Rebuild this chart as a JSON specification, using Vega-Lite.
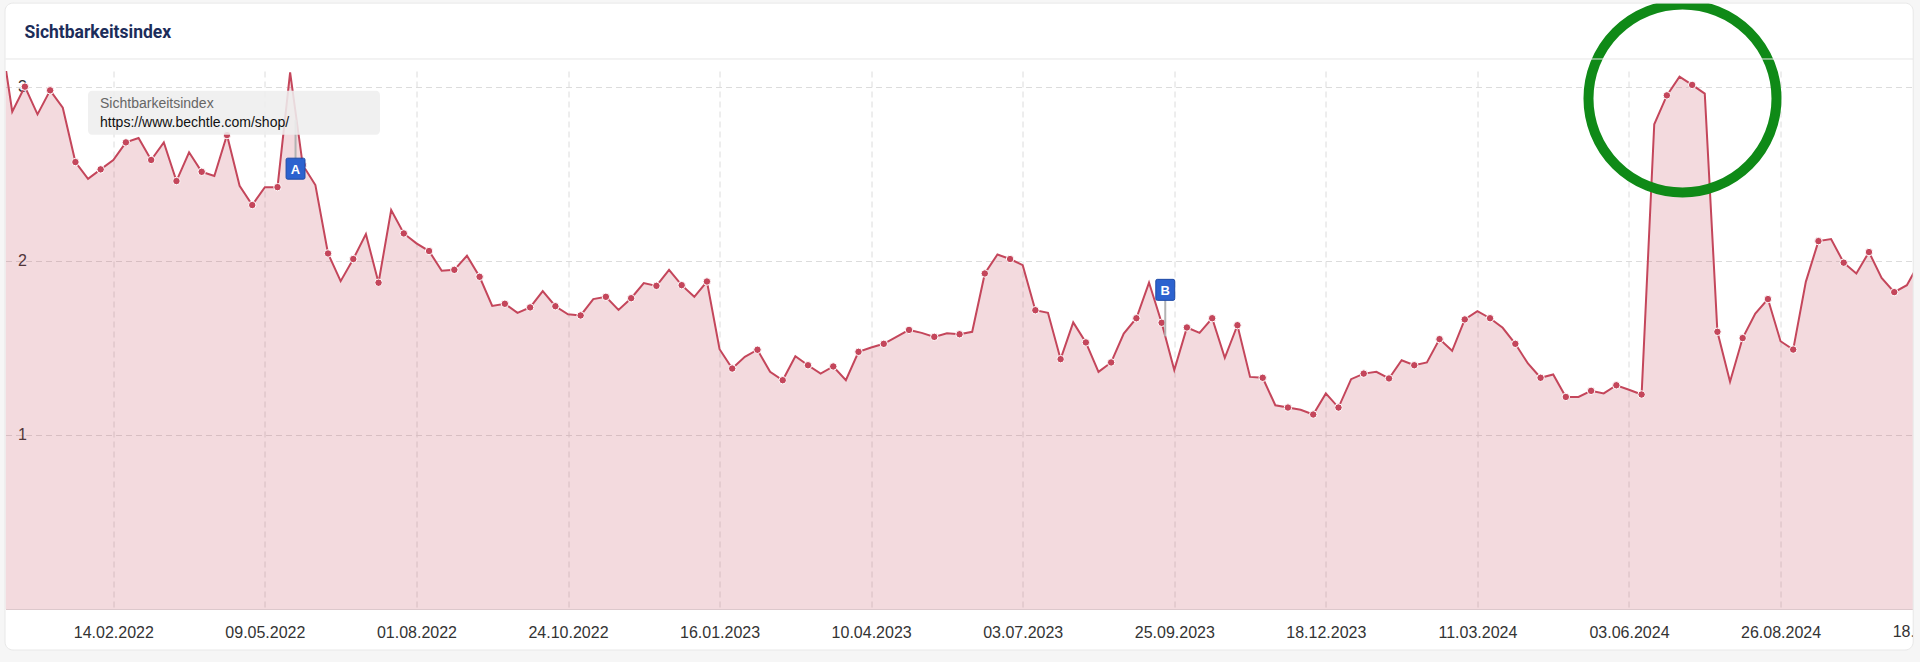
{
  "$schema": "https://vega.github.io/schema/vega-lite/v6.json",
  "width": 1907.5,
  "height": 538,
  "autosize": {"type": "none"},
  "padding": {"left": 5.5, "top": 71, "right": 7, "bottom": 53},
  "background": "white",
  "config": {"view": {"stroke": null}, "numberFormat": "d"},
  "datasets": {
    "series": [
      {"date": "2021-12-13", "value": 3.34},
      {"date": "2021-12-20", "value": 2.856},
      {"date": "2021-12-27", "value": 3.0},
      {"date": "2022-01-03", "value": 2.841},
      {"date": "2022-01-10", "value": 2.979},
      {"date": "2022-01-17", "value": 2.879},
      {"date": "2022-01-24", "value": 2.567},
      {"date": "2022-01-31", "value": 2.471},
      {"date": "2022-02-07", "value": 2.525},
      {"date": "2022-02-14", "value": 2.579},
      {"date": "2022-02-21", "value": 2.68},
      {"date": "2022-02-28", "value": 2.705},
      {"date": "2022-03-07", "value": 2.579},
      {"date": "2022-03-14", "value": 2.68},
      {"date": "2022-03-21", "value": 2.458},
      {"date": "2022-03-28", "value": 2.623},
      {"date": "2022-04-04", "value": 2.511},
      {"date": "2022-04-11", "value": 2.487},
      {"date": "2022-04-18", "value": 2.722},
      {"date": "2022-04-25", "value": 2.431},
      {"date": "2022-05-02", "value": 2.32},
      {"date": "2022-05-09", "value": 2.423},
      {"date": "2022-05-16", "value": 2.423},
      {"date": "2022-05-23", "value": 3.082},
      {"date": "2022-05-30", "value": 2.55},
      {"date": "2022-06-06", "value": 2.435},
      {"date": "2022-06-13", "value": 2.042},
      {"date": "2022-06-20", "value": 1.883},
      {"date": "2022-06-27", "value": 2.01},
      {"date": "2022-07-04", "value": 2.153},
      {"date": "2022-07-11", "value": 1.874},
      {"date": "2022-07-18", "value": 2.291},
      {"date": "2022-07-25", "value": 2.157},
      {"date": "2022-08-01", "value": 2.1},
      {"date": "2022-08-08", "value": 2.056},
      {"date": "2022-08-15", "value": 1.943},
      {"date": "2022-08-22", "value": 1.948},
      {"date": "2022-08-29", "value": 2.029},
      {"date": "2022-09-05", "value": 1.908},
      {"date": "2022-09-12", "value": 1.741},
      {"date": "2022-09-19", "value": 1.753},
      {"date": "2022-09-26", "value": 1.701},
      {"date": "2022-10-03", "value": 1.732},
      {"date": "2022-10-10", "value": 1.826},
      {"date": "2022-10-17", "value": 1.739},
      {"date": "2022-10-24", "value": 1.693},
      {"date": "2022-10-31", "value": 1.686},
      {"date": "2022-11-07", "value": 1.78},
      {"date": "2022-11-14", "value": 1.793},
      {"date": "2022-11-21", "value": 1.718},
      {"date": "2022-11-28", "value": 1.785},
      {"date": "2022-12-05", "value": 1.872},
      {"date": "2022-12-12", "value": 1.856},
      {"date": "2022-12-19", "value": 1.948},
      {"date": "2022-12-26", "value": 1.86},
      {"date": "2023-01-02", "value": 1.793},
      {"date": "2023-01-09", "value": 1.881},
      {"date": "2023-01-16", "value": 1.492},
      {"date": "2023-01-23", "value": 1.381},
      {"date": "2023-01-30", "value": 1.448},
      {"date": "2023-02-06", "value": 1.489},
      {"date": "2023-02-13", "value": 1.362},
      {"date": "2023-02-20", "value": 1.314},
      {"date": "2023-02-27", "value": 1.452},
      {"date": "2023-03-06", "value": 1.4},
      {"date": "2023-03-13", "value": 1.352},
      {"date": "2023-03-20", "value": 1.393},
      {"date": "2023-03-27", "value": 1.314},
      {"date": "2023-04-03", "value": 1.477},
      {"date": "2023-04-10", "value": 1.502},
      {"date": "2023-04-17", "value": 1.523},
      {"date": "2023-04-24", "value": 1.563},
      {"date": "2023-05-01", "value": 1.603},
      {"date": "2023-05-08", "value": 1.586},
      {"date": "2023-05-15", "value": 1.563},
      {"date": "2023-05-22", "value": 1.584},
      {"date": "2023-05-29", "value": 1.578},
      {"date": "2023-06-05", "value": 1.592},
      {"date": "2023-06-12", "value": 1.927},
      {"date": "2023-06-19", "value": 2.036},
      {"date": "2023-06-26", "value": 2.01},
      {"date": "2023-07-03", "value": 1.975},
      {"date": "2023-07-10", "value": 1.716},
      {"date": "2023-07-17", "value": 1.701},
      {"date": "2023-07-24", "value": 1.435},
      {"date": "2023-07-31", "value": 1.646},
      {"date": "2023-08-07", "value": 1.531},
      {"date": "2023-08-14", "value": 1.362},
      {"date": "2023-08-21", "value": 1.416},
      {"date": "2023-08-28", "value": 1.582},
      {"date": "2023-09-04", "value": 1.67},
      {"date": "2023-09-11", "value": 1.875},
      {"date": "2023-09-18", "value": 1.644},
      {"date": "2023-09-25", "value": 1.372},
      {"date": "2023-10-02", "value": 1.617},
      {"date": "2023-10-09", "value": 1.586},
      {"date": "2023-10-16", "value": 1.67},
      {"date": "2023-10-23", "value": 1.443},
      {"date": "2023-10-30", "value": 1.63},
      {"date": "2023-11-06", "value": 1.333},
      {"date": "2023-11-13", "value": 1.328},
      {"date": "2023-11-20", "value": 1.17},
      {"date": "2023-11-27", "value": 1.157},
      {"date": "2023-12-04", "value": 1.144},
      {"date": "2023-12-11", "value": 1.117},
      {"date": "2023-12-18", "value": 1.238},
      {"date": "2023-12-25", "value": 1.157},
      {"date": "2024-01-01", "value": 1.32},
      {"date": "2024-01-08", "value": 1.352},
      {"date": "2024-01-15", "value": 1.362},
      {"date": "2024-01-22", "value": 1.324},
      {"date": "2024-01-29", "value": 1.429},
      {"date": "2024-02-05", "value": 1.4},
      {"date": "2024-02-12", "value": 1.416},
      {"date": "2024-02-19", "value": 1.55},
      {"date": "2024-02-26", "value": 1.483},
      {"date": "2024-03-04", "value": 1.663},
      {"date": "2024-03-11", "value": 1.711},
      {"date": "2024-03-18", "value": 1.67},
      {"date": "2024-03-25", "value": 1.615},
      {"date": "2024-04-01", "value": 1.523},
      {"date": "2024-04-08", "value": 1.41},
      {"date": "2024-04-15", "value": 1.328},
      {"date": "2024-04-22", "value": 1.347},
      {"date": "2024-04-29", "value": 1.218},
      {"date": "2024-05-06", "value": 1.218},
      {"date": "2024-05-13", "value": 1.253},
      {"date": "2024-05-20", "value": 1.238},
      {"date": "2024-05-27", "value": 1.285},
      {"date": "2024-06-03", "value": 1.259},
      {"date": "2024-06-10", "value": 1.232},
      {"date": "2024-06-17", "value": 2.784},
      {"date": "2024-06-24", "value": 2.95},
      {"date": "2024-07-01", "value": 3.057},
      {"date": "2024-07-08", "value": 3.01},
      {"date": "2024-07-15", "value": 2.96},
      {"date": "2024-07-22", "value": 1.592},
      {"date": "2024-07-29", "value": 1.305},
      {"date": "2024-08-05", "value": 1.556},
      {"date": "2024-08-12", "value": 1.697},
      {"date": "2024-08-19", "value": 1.78},
      {"date": "2024-08-26", "value": 1.538},
      {"date": "2024-09-02", "value": 1.49},
      {"date": "2024-09-09", "value": 1.879},
      {"date": "2024-09-16", "value": 2.113},
      {"date": "2024-09-23", "value": 2.125},
      {"date": "2024-09-30", "value": 1.989},
      {"date": "2024-10-07", "value": 1.927},
      {"date": "2024-10-14", "value": 2.05},
      {"date": "2024-10-21", "value": 1.902},
      {"date": "2024-10-28", "value": 1.82},
      {"date": "2024-11-04", "value": 1.86},
      {"date": "2024-11-11", "value": 1.99}
    ],
    "events": [
      {"label": "A", "date": "2022-05-26", "lineValue": 2.808, "labelValue": 2.529},
      {"label": "B", "date": "2023-09-20", "lineValue": 1.566, "labelValue": 1.833}
    ]
  },
  "layer": [
    {
      "data": {"name": "series"},
      "mark": {"type": "area", "clip": true, "fill": "#c4465b", "fillOpacity": 0.2, "interpolate": "linear"},
      "encoding": {
        "x": {
          "field": "date", "type": "temporal",
          "scale": {"type": "utc", "domain": [
            {"year": 2021, "month": 12, "date": 16, "hours": 6, "minutes": 14, "utc": true},
            {"year": 2024, "month": 11, "date": 7, "hours": 9, "minutes": 36, "utc": true}
          ]},
          "axis": {
            "values": [
              {"year": 2022, "month": 2, "date": 14, "utc": true},
              {"year": 2022, "month": 5, "date": 9, "utc": true},
              {"year": 2022, "month": 8, "date": 1, "utc": true},
              {"year": 2022, "month": 10, "date": 24, "utc": true},
              {"year": 2023, "month": 1, "date": 16, "utc": true},
              {"year": 2023, "month": 4, "date": 10, "utc": true},
              {"year": 2023, "month": 7, "date": 3, "utc": true},
              {"year": 2023, "month": 9, "date": 25, "utc": true},
              {"year": 2023, "month": 12, "date": 18, "utc": true},
              {"year": 2024, "month": 3, "date": 11, "utc": true},
              {"year": 2024, "month": 6, "date": 3, "utc": true},
              {"year": 2024, "month": 8, "date": 26, "utc": true}
            ],
            "format": "%d.%m.%Y", "formatType": "utc", "title": null,
            "labelExpr": "utcFormat(datum.value, '%d.%m.%Y')",
            "grid": true, "gridColor": "#dcdcdc", "gridDash": [6, 4], "gridWidth": 1,
            "ticks": false, "tickSize": 0,
            "domain": true, "domainColor": "#dcc8cc", "domainWidth": 1,
            "labelFont": "Liberation Sans", "labelFontSize": 16, "labelColor": "#333333",
            "labelPadding": 23, "labelBaseline": "middle", "labelOverlap": false, "labelFlush": false
          }
        },
        "y": {
          "field": "value", "type": "quantitative",
          "scale": {"domain": [0, 3.09], "nice": false, "zero": true},
          "axis": {
            "values": [1, 2, 3], "title": null, "format": "d",
            "grid": true, "gridColor": "#dcdcdc", "gridDash": [6, 4], "gridWidth": 1,
            "ticks": false, "tickSize": 0, "domain": false,
            "labelAlign": "left", "labelPadding": -12, "labelBaseline": "middle",
            "labelFont": "Liberation Sans", "labelFontSize": 16, "labelColor": "#333333"
          }
        }
      }
    },
    {
      "data": {"name": "series"},
      "mark": {"type": "line", "clip": true, "color": "#c4465b", "strokeWidth": 2},
      "encoding": {
        "x": {"field": "date", "type": "temporal", "axis": {"title": null, "format": "%d.%m.%Y", "formatType": "utc"}},
        "y": {"field": "value", "type": "quantitative", "axis": {"title": null, "format": "d"}}
      }
    },
    {
      "data": {"name": "series"},
      "transform": [{"filter": "abs(round((toDate(datum.date) - toDate('2022-02-14')) / 604800000)) % 2 == 1"}],
      "mark": {"type": "circle", "clip": true, "color": "#c4465b", "stroke": "white", "strokeWidth": 1, "size": 56, "opacity": 1},
      "encoding": {
        "x": {"field": "date", "type": "temporal", "axis": {"title": null, "format": "%d.%m.%Y", "formatType": "utc"}},
        "y": {"field": "value", "type": "quantitative", "axis": {"title": null, "format": "d"}}
      }
    },
    {
      "data": {"name": "events"},
      "mark": {"type": "rule", "color": "#b3b3b3", "strokeWidth": 2},
      "encoding": {
        "x": {"field": "date", "type": "temporal", "axis": {"title": null, "format": "%d.%m.%Y", "formatType": "utc"}},
        "y": {"field": "lineValue", "type": "quantitative", "axis": {"title": null, "format": "d"}},
        "y2": {"field": "labelValue"}
      }
    },
    {
      "data": {"values": [{}]},
      "mark": {"type": "rect", "fill": "#eeeeee", "fillOpacity": 0.88, "cornerRadius": 4},
      "encoding": {
        "x": {"datum": {"year": 2022, "month": 1, "date": 31, "utc": true}, "type": "temporal", "axis": {"title": null, "format": "%d.%m.%Y", "formatType": "utc"}},
        "x2": {"datum": {"year": 2022, "month": 7, "date": 11, "hours": 19, "utc": true}},
        "y": {"datum": 2.977, "type": "quantitative", "axis": {"title": null, "format": "d"}},
        "y2": {"datum": 2.724}
      }
    },
    {
      "data": {"values": [{}]},
      "mark": {"type": "text", "align": "left", "baseline": "middle", "dx": 12, "font": "Liberation Sans", "fontSize": 14, "color": "#666666", "text": "Sichtbarkeitsindex"},
      "encoding": {
        "x": {"datum": {"year": 2022, "month": 1, "date": 31, "utc": true}, "type": "temporal", "axis": {"title": null, "format": "%d.%m.%Y", "formatType": "utc"}},
        "y": {"datum": 2.902, "type": "quantitative", "axis": {"title": null, "format": "d"}}
      }
    },
    {
      "data": {"values": [{}]},
      "mark": {"type": "text", "align": "left", "baseline": "middle", "dx": 12, "font": "Liberation Sans", "fontSize": 14, "color": "#111111", "text": "https://www.bechtle.com/shop/"},
      "encoding": {
        "x": {"datum": {"year": 2022, "month": 1, "date": 31, "utc": true}, "type": "temporal", "axis": {"title": null, "format": "%d.%m.%Y", "formatType": "utc"}},
        "y": {"datum": 2.793, "type": "quantitative", "axis": {"title": null, "format": "d"}}
      }
    },
    {
      "data": {"name": "events"},
      "mark": {"type": "point", "shape": "M-0.75,-1H0.75Q0.9,-1 0.9,-0.85V0.85Q0.9,1 0.75,1H-0.75Q-0.9,1 -0.9,0.85V-0.85Q-0.9,-1 -0.75,-1Z", "filled": true, "fill": "#2c62cf", "stroke": "#1e4aa6", "strokeWidth": 1, "size": 441, "opacity": 1},
      "encoding": {
        "x": {"field": "date", "type": "temporal", "axis": {"title": null, "format": "%d.%m.%Y", "formatType": "utc"}},
        "y": {"field": "labelValue", "type": "quantitative", "axis": {"title": null, "format": "d"}}
      }
    },
    {
      "data": {"name": "events"},
      "mark": {"type": "text", "color": "white", "font": "Liberation Sans", "fontWeight": "bold", "fontSize": 13, "align": "center", "baseline": "middle", "dy": 1},
      "encoding": {
        "x": {"field": "date", "type": "temporal", "axis": {"title": null, "format": "%d.%m.%Y", "formatType": "utc"}},
        "y": {"field": "labelValue", "type": "quantitative", "axis": {"title": null, "format": "d"}},
        "text": {"field": "label"}
      }
    },
    {
      "data": {"values": [{}]},
      "mark": {"type": "point", "shape": "circle", "filled": false, "color": "#0f8a17", "strokeWidth": 10, "size": 35344, "opacity": 1},
      "encoding": {
        "x": {"datum": {"year": 2024, "month": 7, "date": 2, "hours": 15, "minutes": 30, "utc": true}, "type": "temporal", "axis": {"title": null, "format": "%d.%m.%Y", "formatType": "utc"}},
        "y": {"datum": 2.932, "type": "quantitative", "axis": {"title": null, "format": "d"}}
      }
    },
    {
      "data": {"values": [{}]},
      "mark": {"type": "text", "align": "center", "baseline": "middle", "font": "Liberation Sans", "fontSize": 16, "color": "#333333", "text": "18.11.2024"},
      "encoding": {
        "x": {"datum": {"year": 2024, "month": 11, "date": 18, "utc": true}, "type": "temporal", "axis": {"title": null, "format": "%d.%m.%Y", "formatType": "utc"}},
        "y": {"datum": -0.132, "type": "quantitative", "axis": {"title": null, "format": "d"}}
      }
    },
    {
      "data": {"values": [{}]},
      "mark": {"type": "rect", "filled": false, "stroke": "#f6f6f6", "strokeWidth": 20, "cornerRadius": 18},
      "encoding": {
        "x": {"datum": {"year": 2021, "month": 12, "date": 10, "hours": 10, "minutes": 34, "utc": true}, "type": "temporal", "axis": {"title": null, "format": "%d.%m.%Y", "formatType": "utc"}},
        "x2": {"datum": {"year": 2024, "month": 11, "date": 12, "hours": 23, "utc": true}},
        "y": {"datum": 3.538, "type": "quantitative", "axis": {"title": null, "format": "d"}},
        "y2": {"datum": -0.293}
      }
    },
    {
      "data": {"values": [{}]},
      "mark": {"type": "rect", "filled": false, "stroke": "#e8e8e8", "strokeWidth": 1, "cornerRadius": 8},
      "encoding": {
        "x": {"datum": {"year": 2021, "month": 12, "date": 16, "utc": true}, "type": "temporal", "axis": {"title": null, "format": "%d.%m.%Y", "formatType": "utc"}},
        "x2": {"datum": {"year": 2024, "month": 11, "date": 7, "hours": 12, "utc": true}},
        "y": {"datum": 3.48, "type": "quantitative", "axis": {"title": null, "format": "d"}},
        "y2": {"datum": -0.2355}
      }
    },
    {
      "data": {"values": [{}]},
      "mark": {"type": "rule", "color": "#e6e6e6", "strokeWidth": 1},
      "encoding": {
        "x": {"datum": {"year": 2021, "month": 12, "date": 16, "hours": 6, "minutes": 14, "utc": true}, "type": "temporal", "axis": {"title": null, "format": "%d.%m.%Y", "formatType": "utc"}},
        "x2": {"datum": {"year": 2024, "month": 11, "date": 7, "hours": 9, "minutes": 36, "utc": true}},
        "y": {"datum": 3.159, "type": "quantitative", "axis": {"title": null, "format": "d"}}
      }
    },
    {
      "data": {"values": [{}]},
      "mark": {"type": "text", "align": "left", "baseline": "middle", "dx": 19, "font": "Roboto", "fontWeight": "bold", "fontSize": 17.5, "color": "#1c2d5a", "text": "Sichtbarkeitsindex"},
      "encoding": {
        "x": {"datum": {"year": 2021, "month": 12, "date": 16, "hours": 6, "minutes": 14, "utc": true}, "type": "temporal", "axis": {"title": null, "format": "%d.%m.%Y", "formatType": "utc"}},
        "y": {"datum": 3.31, "type": "quantitative", "axis": {"title": null, "format": "d"}}
      }
    }
  ]
}
